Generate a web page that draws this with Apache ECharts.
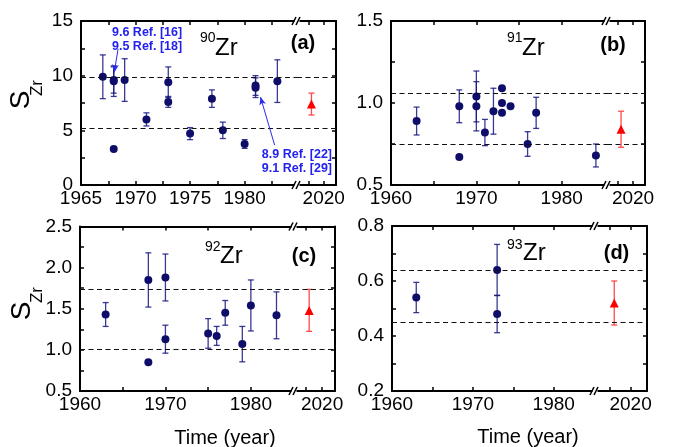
<!DOCTYPE html>
<html><head><meta charset="utf-8">
<script src="https://cdn.jsdelivr.net/npm/echarts@6/dist/echarts.min.js"></script>
<style>html,body{margin:0;padding:0;background:#fff}#c{width:680px;height:447px}</style>
</head><body><div id="c"></div>
<script>
// ---------------- DATA ----------------
// (a) 90Zr
const yearsA = [1967, 1968, 1968, 1968, 1969, 1971, 1973, 1973, 1975, 1977, 1978, 1980, 1981, 1981, 1983];
const valsA  = [9.9, 9.6, 9.5, 3.3, 9.6, 6.0, 9.4, 7.6, 4.7, 7.9, 5.0, 3.75, 8.9, 9.1, 9.5];
const errsA  = [2.0, 1.2, 1.4, 0, 1.95, 0.6, 1.4, 0.5, 0.55, 0.8, 0.75, 0.4, 0.9, 0.9, 1.95];
const thisA  = [7.4], thisErrA = [1.0];
const bandA  = [9.9, 5.15];
// (b) 91Zr
const yearsB = [1963, 1968, 1968, 1970, 1970, 1971, 1972, 1973, 1973, 1973, 1974, 1976, 1977, 1984];
const valsB  = [0.89, 0.98, 0.67, 1.04, 0.98, 0.82, 0.95, 1.09, 1.0, 0.94, 0.98, 0.75, 0.94, 0.68];
const errsB  = [0.085, 0.1, 0, 0.155, 0.15, 0.08, 0.14, 0, 0, 0, 0, 0.075, 0.095, 0.07];
const thisB  = [0.84], thisErrB = [0.11];
const bandB  = [1.06, 0.75];
// (c) 92Zr
const yearsC = [1963, 1968, 1968, 1970, 1970, 1975, 1976, 1977, 1979, 1980, 1983];
const valsC  = [1.43, 1.85, 0.85, 1.88, 1.13, 1.2, 1.17, 1.45, 1.07, 1.54, 1.42];
const errsC  = [0.145, 0.33, 0, 0.285, 0.17, 0.18, 0.115, 0.15, 0.215, 0.31, 0.285];
const thisC  = [1.48], thisErrC = [0.255];
const bandC  = [1.74, 1.01];
// (d) 93Zr
const yearsD = [1963, 1973, 1973];
const valsD  = [0.54, 0.64, 0.48];
const errsD  = [0.055, 0.093, 0.068];
const thisD  = [0.52], thisErrD = [0.08];
const bandD  = [0.64, 0.45];
// this work year
const thisYear = 2016;

// ticks
const xTicksA   = [1965, 1967.5, 1970, 1972.5, 1975, 1977.5, 1980, 1982.5];
const xLabelsA  = [1965, 1970, 1975, 1980];
const xTicks60  = [1960, 1965, 1970, 1975, 1980];
const xLabels60 = [1960, 1970, 1980];
const xTicksR   = [2015, 2020];
const xLabelsR  = [2020];
const yTicksA = [0, 2.5, 5, 7.5, 10, 12.5, 15],   yLabelsA = [0, 5, 10, 15];
const yTicksB = [0.5, 0.75, 1.0, 1.25, 1.5],      yLabelsB = [0.5, 1.0, 1.5];
const yTicksC = [0.5, 0.75, 1.0, 1.25, 1.5, 1.75, 2.0, 2.25, 2.5], yLabelsC = [0.5, 1.0, 1.5, 2.0, 2.5];
const yTicksD = [0.2, 0.3, 0.4, 0.5, 0.6, 0.7, 0.8], yLabelsD = [0.2, 0.4, 0.6, 0.8];

// ---------------- LAYOUT ----------------
const FONT = 'Liberation Sans, Arial, sans-serif';
const NAVY = '#0e0e6a', BAR = 'rgba(24,24,130,0.85)', RED = '#ff0000', REDBAR = '#ff4a4a';
const panels = [
  {mass:'90', tag:'(a)', left:81, top:21, bottom:185, brk:297, right:336, xL:[1965,1984.8], xR:[2011.3,2024], y:[0,15],
   xT:xTicksA, xLb:xLabelsA, yT:yTicksA, yLb:yLabelsA, dec:0,
   years:yearsA, vals:valsA, errs:errsA, tv:thisA, te:thisErrA, band:bandA,
   iso:{x:200, y:38, zx:215, zy:48.5}, tagPos:[303,43]},
  {mass:'91', tag:'(b)', left:391, top:21, bottom:185, brk:607, right:645, xL:[1960,1985.3], xR:[2011.3,2024], y:[0.5,1.5],
   xT:xTicks60, xLb:xLabels60, yT:yTicksB, yLb:yLabelsB, dec:1,
   years:yearsB, vals:valsB, errs:errsB, tv:thisB, te:thisErrB, band:bandB,
   iso:{x:507, y:38, zx:522, zy:48}, tagPos:[613,45]},
  {mass:'92', tag:'(c)', left:80, top:226.5, bottom:391, brk:294, right:335, xL:[1960,1985.05], xR:[2011.3,2024], y:[0.5,2.5],
   xT:xTicks60, xLb:xLabels60, yT:yTicksC, yLb:yLabelsC, dec:1,
   years:yearsC, vals:valsC, errs:errsC, tv:thisC, te:thisErrC, band:bandC,
   iso:{x:205, y:247, zx:220, zy:256}, tagPos:[304,256]},
  {mass:'93', tag:'(d)', left:392, top:226, bottom:391, brk:595, right:647, xL:[1960,1985.1], xR:[2011.3,2024], y:[0.2,0.8],
   xT:xTicks60, xLb:xLabels60, yT:yTicksD, yLb:yLabelsD, dec:1,
   years:yearsD, vals:valsD, errs:errsD, tv:thisD, te:thisErrD, band:bandD,
   iso:{x:507, y:245, zx:523, zy:253.5}, tagPos:[616.5,253.5]}
];

const grid = [], xAxis = [], yAxis = [], series = [], graphic = [];
const lineStyle = {color:'#000', width:2};
const tickStyle = {color:'#000', width:1.5};

function errRender(color){
  return function(params, api){
    const x = api.value(0), y = api.value(1), e = api.value(2);
    if (!e) return null;
    const t = api.coord([x, y + e]), b = api.coord([x, y - e]);
    const w = 3;
    const st = {stroke: color, lineWidth: 1.3};
    return {type:'group', children:[
      {type:'line', shape:{x1:t[0], y1:t[1], x2:b[0], y2:b[1]}, style:st},
      {type:'line', shape:{x1:t[0]-w, y1:t[1], x2:t[0]+w, y2:t[1]}, style:st},
      {type:'line', shape:{x1:b[0]-w, y1:b[1], x2:b[0]+w, y2:b[1]}, style:st}
    ]};
  };
}

panels.forEach((p, pi) => {
  const gL = pi*2, gR = pi*2+1;
  const h = p.bottom - p.top;
  grid.push({left:p.left, top:p.top, width:p.brk-p.left, height:h});
  grid.push({left:p.brk, top:p.top, width:p.right-p.brk, height:h});
  const mkX = (g, rng, ticks, labels, pos) => ({
    type:'value', gridIndex:g, position:pos, min:rng[0], max:rng[1],
    axisLine:{show:true, lineStyle}, splitLine:{show:false},
    axisTick:{show:true, inside:true, length:4, lineStyle:tickStyle, customValues:ticks},
    axisLabel:{show:pos==='bottom', customValues:labels, color:'#000', fontSize:19, fontFamily:FONT, margin:4,
      formatter: v => String(Math.round(v))}
  });
  xAxis.push(mkX(gL, p.xL, p.xT, p.xLb, 'bottom'));
  xAxis.push(mkX(gL, p.xL, p.xT, p.xLb, 'top'));
  xAxis.push(mkX(gR, p.xR, xTicksR, xLabelsR, 'bottom'));
  xAxis.push(mkX(gR, p.xR, xTicksR, xLabelsR, 'top'));
  const mkY = (g, pos) => ({
    type:'value', gridIndex:g, position:pos, min:p.y[0], max:p.y[1],
    axisLine:{show:true, lineStyle}, splitLine:{show:false},
    axisTick:{show:true, inside:true, length:4, lineStyle:tickStyle, customValues:p.yT},
    axisLabel:{show:pos==='left', customValues:p.yLb, color:'#000', fontSize:19, fontFamily:FONT, margin:8,
      formatter: v => v.toFixed(p.dec)}
  });
  yAxis.push(mkY(gL, 'left'));
  yAxis.push(mkY(gR, 'right'));

  const bandLines = p.band.map(v => ({yAxis:v}));
  const markBand = {silent:true, symbol:['none','none'], label:{show:false},
    lineStyle:{color:'#111', width:1.2, type:[5,3.5]}, data:bandLines, animation:false};

  const pts = p.years.map((yr, i) => [yr, p.vals[i], p.errs[i]]);
  const mine = p.tv.map((v, i) => [thisYear, v, p.te[i]]);

  const leftMark = JSON.parse(JSON.stringify(markBand));
  if (pi === 0) {
    const arrowStyle = {color:'#2a2af0', width:1, type:'solid'};
    leftMark.data = leftMark.data.concat([
      [{coord:[1968.4, 12.45], symbol:'none', lineStyle:arrowStyle}, {coord:[1968.05, 10.3], symbol:'arrow', symbolSize:[5,8]}],
      [{coord:[1982.75, 3.65], symbol:'none', lineStyle:arrowStyle}, {coord:[1981.45, 8.05], symbol:'arrow', symbolSize:[5,8]}]
    ]);
  }

  series.push({type:'custom', xAxisIndex:gL*2, yAxisIndex:gL, renderItem:errRender(BAR), data:pts, z:2, silent:true});
  series.push({type:'scatter', xAxisIndex:gL*2, yAxisIndex:gL, data:pts, symbol:'circle', symbolSize:8,
    itemStyle:{color:NAVY, opacity:1}, z:3, markLine:leftMark});
  series.push({type:'custom', xAxisIndex:gR*2, yAxisIndex:gR, renderItem:errRender(REDBAR), data:mine, z:2, silent:true});
  series.push({type:'scatter', xAxisIndex:gR*2, yAxisIndex:gR, data:mine, symbol:'triangle', symbolSize:9,
    itemStyle:{color:RED, opacity:1}, z:3, markLine:markBand});

  // axis break marks
  [p.top, p.bottom].forEach(yy => {
    graphic.push({type:'rect', z:100, shape:{x:p.brk-2.5, y:yy-2, width:5, height:4}, style:{fill:'#fff'}});
    graphic.push({type:'line', z:101, shape:{x1:p.brk-5, y1:yy+4, x2:p.brk-1, y2:yy-4}, style:{stroke:'#000', lineWidth:1.5}});
    graphic.push({type:'line', z:101, shape:{x1:p.brk-1, y1:yy+4, x2:p.brk+3, y2:yy-4}, style:{stroke:'#000', lineWidth:1.5}});
  });
  // isotope label
  graphic.push({type:'text', z:50, x:p.iso.x, y:p.iso.y, style:{text:p.mass, font:'14px '+FONT, fill:'#000', align:'left', verticalAlign:'middle'}});
  graphic.push({type:'text', z:50, x:p.iso.zx, y:p.iso.zy, style:{text:'Zr', font:'24px '+FONT, fill:'#000', align:'left', verticalAlign:'middle'}});
  // panel tag
  graphic.push({type:'text', z:50, x:p.tagPos[0], y:p.tagPos[1], style:{text:p.tag, font:'bold 20px '+FONT, fill:'#000', align:'center', verticalAlign:'middle'}});
});

// y-axis titles
[[21,100,37,88],[22,311,37,295]].forEach(t => {
  graphic.push({type:'text', x:t[0], y:t[1], rotation:Math.PI/2, style:{text:'S', font:'28px '+FONT, fill:'#000', align:'center', verticalAlign:'middle'}});
  graphic.push({type:'text', x:t[2], y:t[3], rotation:Math.PI/2, style:{text:'Zr', font:'17px '+FONT, fill:'#000', align:'center', verticalAlign:'middle'}});
});
// x-axis titles
[[225,438],[528,437]].forEach(t => {
  graphic.push({type:'text', x:t[0], y:t[1], style:{text:'Time (year)', font:'20px '+FONT, fill:'#000', align:'center', verticalAlign:'middle'}});
});
// blue annotations
const annFont = 'bold 12.5px ' + FONT, annColor = '#2222ee';
graphic.push({type:'text', x:112, y:32.5, style:{text:'9.6 Ref. [16]', font:annFont, fill:annColor, align:'left', verticalAlign:'middle'}});
graphic.push({type:'text', x:112, y:47, style:{text:'9.5 Ref. [18]', font:annFont, fill:annColor, align:'left', verticalAlign:'middle'}});
graphic.push({type:'text', x:332, y:155, style:{text:'8.9 Ref. [22]', font:annFont, fill:annColor, align:'right', verticalAlign:'middle'}});
graphic.push({type:'text', x:332, y:168.5, style:{text:'9.1 Ref. [29]', font:annFont, fill:annColor, align:'right', verticalAlign:'middle'}});

const chart = echarts.init(document.getElementById('c'), null, {renderer:'canvas'});
chart.setOption({animation:false, backgroundColor:'#fff', grid, xAxis, yAxis, series, graphic});
</script></body></html>
